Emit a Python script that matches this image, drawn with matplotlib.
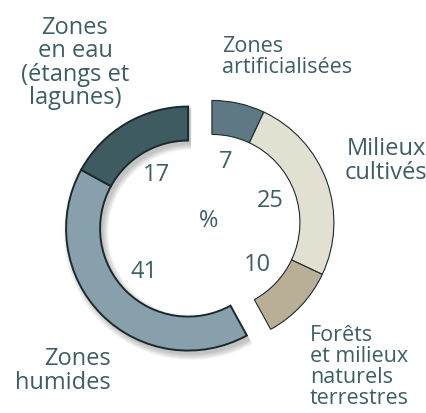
import numpy as np
import matplotlib
matplotlib.use("Agg")
import matplotlib.pyplot as plt
from matplotlib.patches import Wedge

# Occupation des sols (%), dans le sens horaire depuis midi
values = [7, 25, 10, 41, 17]
colors = ["#5f7984", "#e2e0d1", "#b9af97", "#87a0ab", "#3f5b62"]
groups = [0, 0, 0, 1, 1]  # 0 = bloc droit, 1 = bloc gauche (décalés)

text_color = "#3e5e66"
edge_color = "#1c2a2d"

plt.rcParams['font.family'] = ['Open Sans', 'DejaVu Sans']

fig = plt.figure(figsize=(4.27, 4.13), dpi=100)
ax = fig.add_axes([0, 0, 1, 1])
ax.set_xlim(0, 427)
ax.set_ylim(0, 413)
ax.set_aspect('equal')
ax.axis('off')

base = np.array([200.0, 187.5])
r_out = 122
ring = 34
explode = 12.3

total = sum(values)
cum = np.concatenate([[0], np.cumsum(values)])

# centre de chaque bloc, décalé le long de l'angle médian du bloc
centers = {}
for g in (0, 1):
    idx = [i for i in range(len(values)) if groups[i] == g]
    c0, c1 = cum[idx[0]], cum[idx[-1] + 1]
    mid = np.radians(90 - 360 * (c0 + c1) / 2 / total)
    centers[g] = base + explode * np.array([np.cos(mid), np.sin(mid)])

# ombre portée du bloc gauche
idx = [i for i in range(len(values)) if groups[i] == 1]
t1 = 90 - 360 * cum[idx[-1] + 1] / total
t2 = 90 - 360 * cum[idx[0]] / total
sc = centers[1] + np.array([3, -4])
for k in range(7):
    ax.add_patch(Wedge(sc, r_out + k * 0.9, t1, t2, width=ring + 2 * k * 0.9,
                       facecolor='black', edgecolor='none', alpha=0.035))

for i, v in enumerate(values):
    c = centers[groups[i]]
    th1 = 90 - 360 * cum[i + 1] / total
    th2 = 90 - 360 * cum[i] / total
    lw = 1.4 if groups[i] == 1 else 0.8
    ax.add_patch(Wedge(c, r_out, th1, th2, width=ring, facecolor=colors[i],
                       edgecolor=edge_color, linewidth=lw))
    mid = np.radians((th1 + th2) / 2)
    r_lab = 62
    ax.text(c[0] + r_lab * np.cos(mid), c[1] + r_lab * np.sin(mid), str(v),
            ha='center', va='center', fontsize=17, color=text_color)

ax.text(209, 413 - 221, "%", ha='center', va='center', fontsize=17, color=text_color)

big = dict(fontsize=17, color=text_color, linespacing=0.97)
small = dict(fontsize=15.5, color=text_color, linespacing=1.0)
ax.text(75, 413 - 63, "Zones\nen eau\n(étangs et\nlagunes)", ha='center', va='center', **big)
ax.text(222, 413 - 57, "Zones\nartificialisées", ha='left', va='center', **small)
ax.text(386, 413 - 161, "Milieux\ncultivés", ha='center', va='center', **big)
ax.text(310, 413 - 367, "Forêts\net milieux\nnaturels\nterrestres", ha='left', va='center', **small)
ax.text(111, 413 - 371, "Zones\nhumides", ha='right', va='center', **big)

fig.savefig("out.png", dpi=100)
